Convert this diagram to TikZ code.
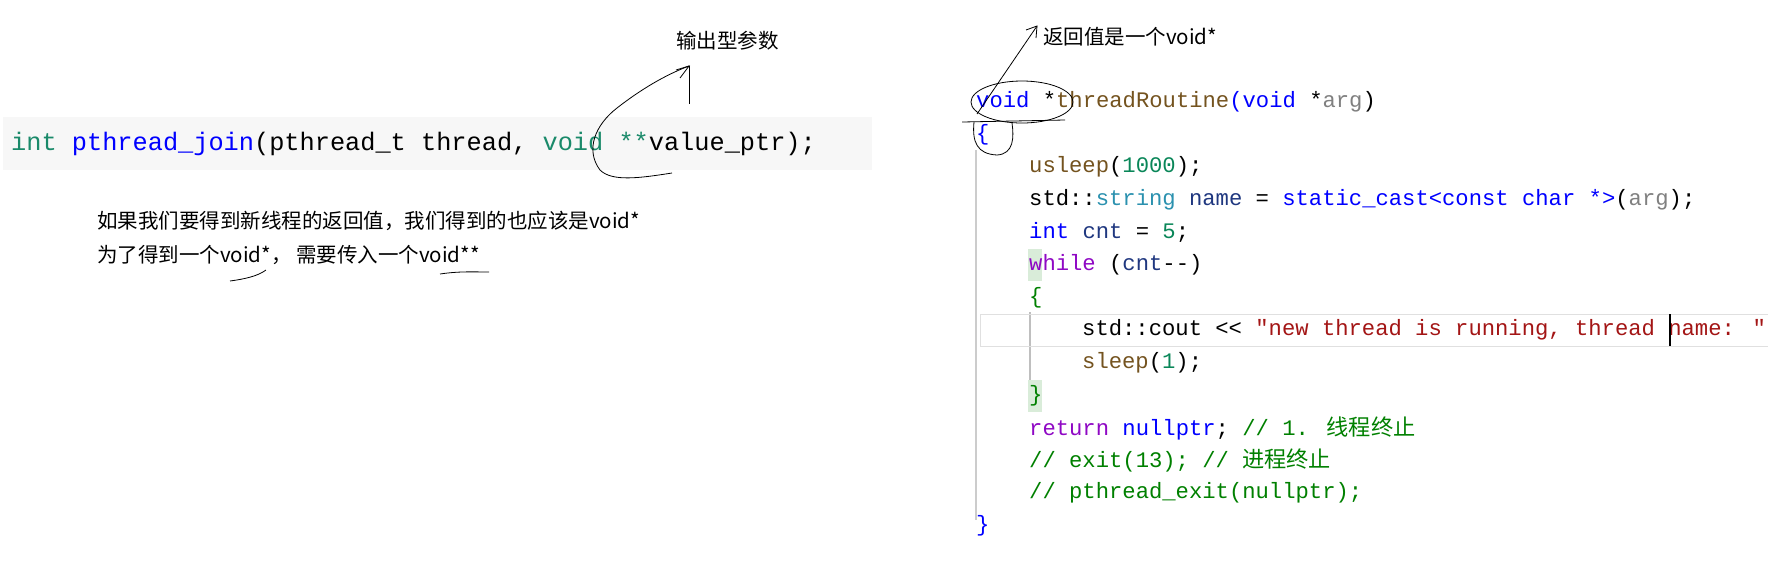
\documentclass[tikz,border=0pt]{standalone}
\usepackage{fontspec}
\usetikzlibrary{calc}
\setmainfont{Liberation Sans}
\newfontfamily\cjk{Noto Sans CJK SC}
\newfontfamily\code{Liberation Mono}
\definecolor{kw}{HTML}{0000FF}
\definecolor{fn}{HTML}{74531F}
\definecolor{nm}{HTML}{098658}
\definecolor{st}{HTML}{A31515}
\definecolor{cm}{HTML}{008000}
\definecolor{ty}{HTML}{2B91AF}
\definecolor{ctl}{HTML}{8F08C4}
\definecolor{pa}{HTML}{808080}
\definecolor{va}{HTML}{1F377F}
\definecolor{gk}{HTML}{1A8A6A}
\newcommand\ck[1]{\textcolor{kw}{#1}}
\newcommand\cf[1]{\textcolor{fn}{#1}}
\newcommand\cn[1]{\textcolor{nm}{#1}}
\newcommand\cs[1]{\textcolor{st}{#1}}
\newcommand\cc[1]{\textcolor{cm}{#1}}
\newcommand\ct[1]{\textcolor{ty}{#1}}
\newcommand\cl[1]{\textcolor{ctl}{#1}}
\newcommand\cp[1]{\textcolor{pa}{#1}}
\newcommand\cv[1]{\textcolor{va}{#1}}
\begin{document}
\begin{tikzpicture}[x=1pt,y=-1pt,
  cl/.style={anchor=west,inner sep=0pt,font=\code\fontsize{22.2}{26}\selectfont},
  note/.style={anchor=west,inner sep=0pt,font=\cjk\fontsize{20.5}{24}\selectfont},
  hand/.style={black,line width=0.8pt}]
\useasboundingbox (0,0) rectangle (1768,566);
% left code
\fill[black!3] (3,117) rectangle (872,170);
\node[anchor=west,inner sep=0pt,font=\code\fontsize{25.3}{30}\selectfont] (sig) at (11,144)
 {\textcolor{gk}{int} \ck{pthread\_join}(pthread\_t thread, \textcolor{gk}{void} \textcolor{gk}{**}value\_ptr);};
\node[note] (out) at (676,41) {输出型参数};
\node[note] (n1) at (97,221) {如果我们要得到新线程的返回值，我们得到的也应该是void*};
\node[note] (n2) at (97,255) {为了得到一个void*， 需要传入一个void**};
\draw[hand] (672,173) .. controls (640,178) and (612,182) .. (600,170)
  .. controls (585,150) and (595,125) .. (617,108)
  .. controls (640,90) and (665,75) .. (689,66);
\draw[hand] (689,66) -- (689,104);
\draw[hand] (676,70) -- (689,66) -- (680,78);
\draw[hand] (230,281) .. controls (245,279) and (258,276) .. (266,270);
\draw[hand] (440,274) .. controls (460,271) and (475,272) .. (489,272);
% right code
\foreach \i in {0,...,13}{\coordinate (L\i) at (976,102+32.6*\i);}
\draw[black!20,line width=1.2pt] (976,150) -- (976,520);
\draw[black!25,line width=1.2pt] (1030,312) -- (1030,407);
\draw[black!12,line width=1pt] (980,314) rectangle (1768,346);
\fill[green!50!black!15] (1028,249) rectangle (1042,281);
\fill[green!50!black!15] (1028,380) rectangle (1042,412);
\node[cl] (c0) at (L0) {\ck{void} *\cf{threadRoutine}\ck{(void} *\cp{arg})};
\node[cl] (c1) at (L1) {\ck{\{}};
\node[cl] (c2) at ($(L2)+(53,0)$) {\cf{usleep}(\cn{1000});};
\node[cl] (c3) at ($(L3)+(53,0)$) {std::\ct{string} \cv{name} = \ck{static\_cast<const char *>}(\cp{arg});};
\node[cl] (c4) at ($(L4)+(53,0)$) {\ck{int} \cv{cnt} = \cn{5};};
\node[cl] (c5) at ($(L5)+(53,0)$) {\cl{while} (\cv{cnt}--)};
\node[cl] (c6) at ($(L6)+(53,0)$) {\textcolor{cm}{\{}};
\node[cl] (c7) at ($(L7)+(106,0)$) {std::cout << \cs{"new thread is running, thread name: "}};
\node[cl] (c8) at ($(L8)+(106,0)$) {\cf{sleep}(\cn{1});};
\node[cl] (c9) at ($(L9)+(53,0)$) {\textcolor{cm}{\}}};
\node[cl] (c10) at ($(L10)+(53,0)$) {\cl{return} \ck{nullptr}; \cc{// 1. {\cjk 线程终止}}};
\node[cl] (c11) at ($(L11)+(53,0)$) {\cc{// exit(13); // {\cjk 进程终止}}};
\node[cl] (c12) at ($(L12)+(53,0)$) {\cc{// pthread\_exit(nullptr);}};
\node[cl] (c13) at (L13) {\ck{\}}};
\draw[black,line width=1.5pt] (1670,314) -- (1670,346);
% annotations right
\node[note] (ret) at (1043,37) {返回值是一个void*};
\draw[hand] (1022,102) ellipse [x radius=51,y radius=21];
\draw[hand] (962,122) -- (1065,120);
\draw[hand] (974,122) .. controls (972,142) and (977,154) .. (997,155)
  .. controls (1014,154) and (1014,137) .. (1012,123);
\draw[hand] (977,114) -- (1037,26);
\draw[hand] (1026,30) -- (1037,26) -- (1036,38);
\end{tikzpicture}
\end{document}
